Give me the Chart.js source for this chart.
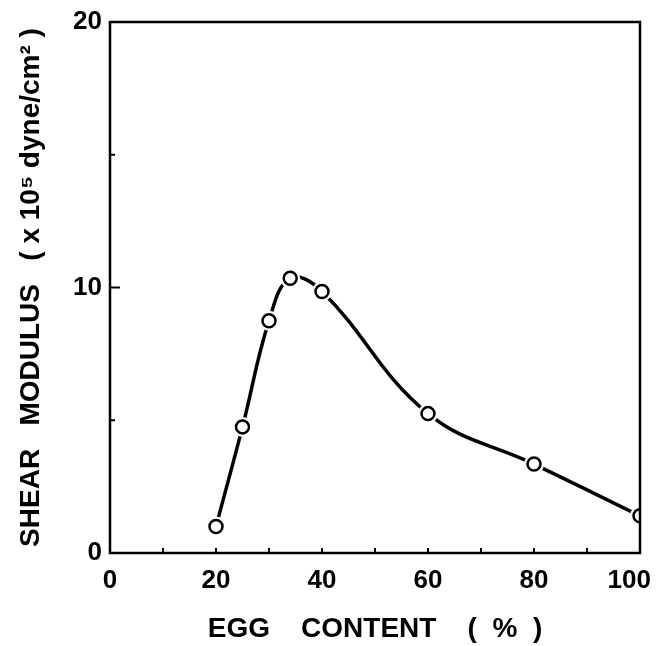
<!DOCTYPE html>
<html>
<head>
<meta charset="utf-8">
<script src="https://cdn.jsdelivr.net/npm/chart.js@4"></script>
<style>
  html, body { margin: 0; padding: 0; background: #fff; }
  #wrap { width: 656px; height: 646px; }
</style>
</head>
<body>
<div id="wrap"><canvas id="modulusChart"></canvas></div>
<script>
// Egg content (%) vs shear modulus (x 10^5 dyne/cm^2)
const eggContent = [20, 25, 30, 34, 40, 60, 80, 100];
const shearModulus = [1.0, 4.75, 8.75, 10.35, 9.85, 5.25, 3.35, 1.4];
const xLabels = [0, 20, 40, 60, 80, 100];
const yLabels = [0, 10, 20];

const points = eggContent.map((x, i) => ({ x: x, y: shearModulus[i] }));
const labelFont = { family: "'Liberation Sans', Arial, sans-serif", size: 26, weight: '600' };
const titleFont = { family: "'Liberation Sans', Arial, sans-serif", size: 28, weight: '600' };

// box around the plot area plus inward tick marks
const frameAndTicks = {
    id: 'frameAndTicks',
    afterDatasetsDraw(chart) {
        const { ctx, chartArea: a, scales } = chart;
        ctx.save();
        ctx.strokeStyle = '#000';
        ctx.lineWidth = 2.5;
        ctx.strokeRect(a.left, a.top, a.right - a.left, a.bottom - a.top);
        ctx.lineWidth = 2;
        ctx.beginPath();
        for (let v = 10; v < 100; v += 10) {
            const px = scales.x.getPixelForValue(v);
            ctx.moveTo(px, a.bottom);
            ctx.lineTo(px, a.bottom - 5);
        }
        for (let v = 5; v < 20; v += 5) {
            const py = scales.y.getPixelForValue(v);
            const len = v % 10 === 0 ? 10 : 5;
            ctx.moveTo(a.left, py);
            ctx.lineTo(a.left + len, py);
        }
        ctx.stroke();
        ctx.restore();
    }
};

new Chart(document.getElementById('modulusChart'), {
    type: 'line',
    data: {
        datasets: [
            {
                // hollow markers
                data: points,
                showLine: false,
                pointRadius: 6.5,
                pointBorderWidth: 2.5,
                pointBorderColor: '#000',
                pointBackgroundColor: '#fff',
                order: 0
            },
            {
                // white halo so the curve stops short of each marker
                data: points,
                showLine: false,
                pointRadius: 10,
                pointBorderWidth: 0,
                pointBackgroundColor: '#fff',
                pointBorderColor: '#fff',
                order: 1
            },
            {
                data: points,
                borderColor: '#000',
                borderWidth: 3.5,
                tension: 0.4,
                pointRadius: 0,
                fill: false,
                order: 2
            }
        ]
    },
    options: {
        responsive: true,
        maintainAspectRatio: false,
        animation: false,
        layout: { padding: { top: 22, right: 16, left: 0, bottom: 0 } },
        plugins: { legend: { display: false }, tooltip: { enabled: false } },
        scales: {
            x: {
                type: 'linear',
                min: 0,
                max: 100,
                grid: { display: false, drawTicks: false },
                border: { display: false },
                afterBuildTicks: s => { s.ticks = xLabels.map(v => ({ value: v })); },
                ticks: {
                    color: '#000',
                    font: labelFont,
                    padding: 12,
                    maxRotation: 0,
                    // pad the last label so it stays inside the canvas
                    callback: v => (v === 100 ? '100   ' : String(v))
                },
                title: {
                    display: true,
                    text: 'EGG    CONTENT    (  %  )',
                    color: '#000',
                    font: titleFont,
                    padding: { top: 16, bottom: 0 }
                },
                afterFit: s => { s.height = 93; s.paddingLeft = 0; s.paddingRight = 0; }
            },
            y: {
                min: 0,
                max: 20,
                grid: { display: false, drawTicks: false },
                border: { display: false },
                afterBuildTicks: s => { s.ticks = yLabels.map(v => ({ value: v })); },
                ticks: { color: '#000', font: labelFont, padding: 8 },
                title: {
                    display: true,
                    text: 'SHEAR   MODULUS   ( x 10\u2075 dyne/cm\u00b2 )',
                    color: '#000',
                    font: titleFont,
                    padding: { top: 14, bottom: 10 }
                },
                afterFit: s => { s.width = 110; s.paddingTop = 0; s.paddingBottom = 0; }
            }
        }
    },
    plugins: [frameAndTicks]
});
</script>
</body>
</html>
